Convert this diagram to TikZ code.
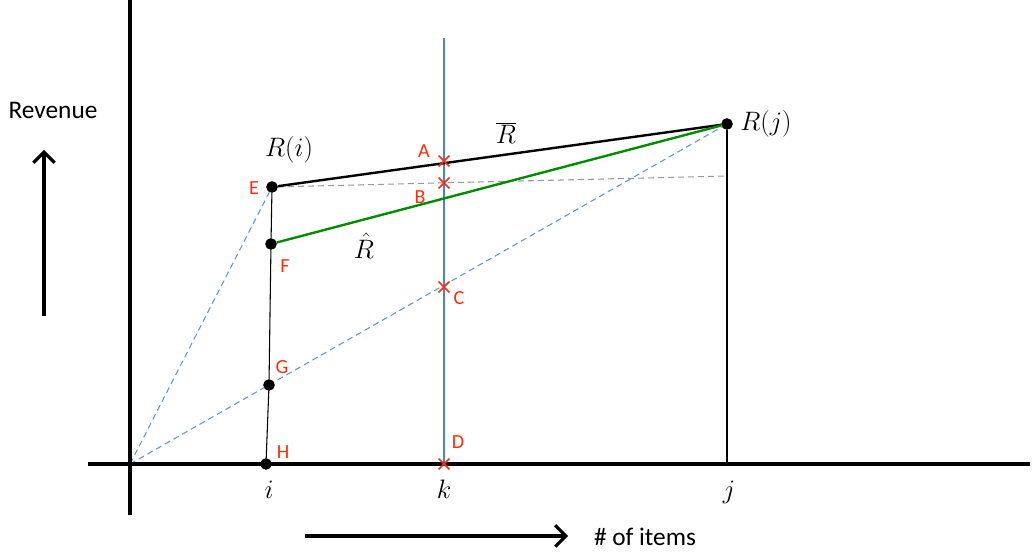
\RequirePackage{fix-cm}
\documentclass[tikz,border=0pt]{standalone}
\usepackage{fontspec}
\usetikzlibrary{arrows.meta,shapes.misc}
\newfontfamily\calibri{Carlito}
\definecolor{kblue}{RGB}{72,128,235}
\definecolor{dblue}{RGB}{95,150,210}
\definecolor{mred}{RGB}{255,45,10}
\definecolor{rgreen}{RGB}{0,140,0}
\begin{document}
\begin{tikzpicture}[x=0.75pt, y=-0.75pt,
    dot/.style={circle, fill=black, inner sep=0pt, minimum size=8.5pt},
    xmark/.style={cross out, draw=mred, line width=1.2pt, inner sep=0pt, minimum size=7pt},
    lbl/.style={text=mred, font=\calibri\fontsize{15}{17}\selectfont, inner sep=0pt},
    mlbl/.style={font=\fontsize{20}{24}\selectfont, inner sep=0pt},
    axis/.style={line width=2.4pt},
    bdash/.style={dblue, line width=0.8pt, dash pattern=on 4.5pt off 3pt}]
  \useasboundingbox (0,0) rectangle (1033,555);
  % points
  \coordinate (O) at (130,464);
  \node[dot] (H) at (266,464) {};
  \node[dot] (G) at (269,385) {};
  \node[dot] (F) at (271,244) {};
  \node[dot] (E) at (272,187) {};
  \node[dot] (Rj) at (727,124) {};
  \coordinate (Jb) at (727,464);
  \coordinate (Jm) at (727,176);
  \coordinate (Kt) at (444,38);
  \coordinate (Kb) at (444,464);
  % dashed helpers
  \draw[bdash] (O) -- (E);
  \draw[bdash] (O) -- (Rj);
  \draw[gray!80, line width=0.8pt, dash pattern=on 4.5pt off 3pt] (E) -- (Jm);
  % k line
  \draw[kblue, line width=1pt] (Kt) -- (Kb);
  % curves
  \draw[line width=0.8pt] (H) -- (G) -- (F) -- (E);
  \draw[line width=0.8pt] (Rj) -- (Jb);
  \draw[line width=1.8pt] (E) -- (Rj);
  \draw[rgreen, line width=1.8pt] (F) -- (Rj);
  % axes
  \draw[axis] (130,0) -- (130,515);
  \draw[axis] (88,464) -- (1030,464);
  \foreach \p in {H,G,F,E,Rj} \node[dot] at (\p) {};
  % crosses
  \node[xmark] (A) at (444,161) {};
  \node[xmark] (B) at (444,183) {};
  \node[xmark] (C) at (444,287) {};
  \node[xmark] (D) at (444,464) {};
  % labels
  \node[lbl] (lA) at (424,151) {A};
  \node[lbl] (lB) at (420,197) {B};
  \node[lbl] (lC) at (459,298) {C};
  \node[lbl] (lD) at (458,442) {D};
  \node[lbl] (lE) at (254,188) {E};
  \node[lbl] (lF) at (285,266) {F};
  \node[lbl] (lG) at (282,367) {G};
  \node[lbl] (lH) at (283,452) {H};
  \node[mlbl] (Ri) at (289,150) {$R(i)$};
  \node[mlbl, anchor=west] (RjL) at (740,124) {$R(j)$};
  \node[mlbl] (Rbar) at (506,133) {$\overline{R}$};
  \node[mlbl] (Rhat) at (364,246) {$\hat{R}$};
  \node[mlbl] (ti) at (269,490) {$i$};
  \node[mlbl] (tk) at (444,489) {$k$};
  \node[mlbl] (tj) at (729,492) {$j$};
  % axis captions
  \node[font=\calibri\fontsize{19}{22}\selectfont, inner sep=0pt] (rev) at (53,110) {Revenue};
  \draw[line width=2.3pt, -{Straight Barb[length=8pt, width=16pt]}] (44,316) -- (44,150);
  \node[font=\calibri\fontsize{19}{22}\selectfont, inner sep=0pt] (items) at (645,537) {\# of items};
  \draw[line width=2.3pt, -{Straight Barb[length=8pt, width=16pt]}] (305,536) -- (568,536);
\end{tikzpicture}
\end{document}
